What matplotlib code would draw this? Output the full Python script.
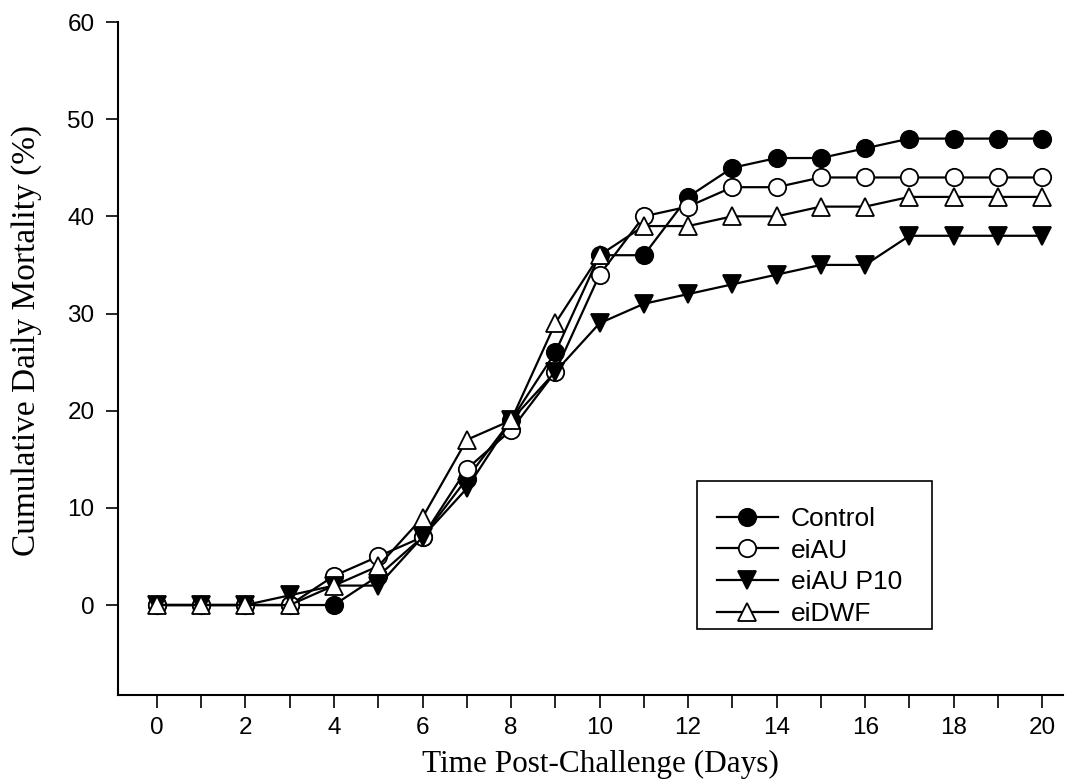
import matplotlib
matplotlib.use("Agg")
from matplotlib import pyplot as plt
from matplotlib.patches import Rectangle

days = list(range(0, 21))

control = [0, 0, 0, 0, 0, 3, 7, 13, 19, 26, 36, 36, 42, 45, 46, 46, 47, 48, 48, 48, 48]
eiAU = [0, 0, 0, 0, 3, 5, 7, 14, 18, 24, 34, 40, 41, 43, 43, 44, 44, 44, 44, 44, 44]
eiAU_P10 = [0, 0, 0, 1, 2, 2, 7, 12, 19, 24, 29, 31, 32, 33, 34, 35, 35, 38, 38, 38, 38]
eiDWF = [0, 0, 0, 0, 2, 4, 9, 17, 19, 29, 36, 39, 39, 40, 40, 41, 41, 42, 42, 42, 42]

series_names = ["Control", "eiAU", "eiAU P10", "eiDWF"]
x_ticks = list(range(0, 21, 2))
y_ticks = list(range(0, 61, 10))

W, H = 1073, 782
fig = plt.figure(figsize=(W / 100, H / 100), dpi=100)
ax = fig.add_axes([118 / W, 1 - 695 / H, (1063 - 118) / W, (695 - 22) / H])

styles = [
    dict(marker="o", mfc="black"),
    dict(marker="o", mfc="white"),
    dict(marker="v", mfc="black"),
    dict(marker="^", mfc="white"),
]
for vals, name, st in zip([control, eiAU, eiAU_P10, eiDWF], series_names, styles):
    ax.plot(days, vals, color="black", lw=1.6, ms=12.5, mec="black", mew=1.3,
            label=name, clip_on=False, **st)

ax.set_xlim(-0.88, 20.47)
ax.set_ylim(-9.26, 60)
ax.set_xticks(range(0, 21))
ax.set_xticklabels([str(d) if d in x_ticks else "" for d in range(0, 21)])
ax.set_yticks(y_ticks)

for s in ["top", "right"]:
    ax.spines[s].set_visible(False)
for s in ["left", "bottom"]:
    ax.spines[s].set_linewidth(1.5)

ax.tick_params(axis="both", direction="out", length=9, width=1.2, labelsize=17.5)
ax.tick_params(axis="x", pad=7)
ax.tick_params(axis="y", pad=8)
for lab in ax.get_xticklabels() + ax.get_yticklabels():
    lab.set_fontfamily("Liberation Sans")

ax.set_xlabel("Time Post-Challenge (Days)", fontsize=22.5, family="Liberation Serif", labelpad=3)
ax.xaxis.set_label_coords(0.511, -0.082)
ax.set_ylabel("Cumulative Daily Mortality (%)", fontsize=24, family="Liberation Serif")
ax.yaxis.set_label_coords(-0.080, 0.527)

# legend entries without frame, box drawn separately (reference box is tight at the bottom)
leg = ax.legend(loc="upper left", bbox_to_anchor=(717 / W, 1 - 507 / H),
                bbox_transform=fig.transFigure, frameon=False, borderpad=0,
                handlelength=2.3, handletextpad=0.5, labelspacing=0.29, borderaxespad=0,
                prop={"family": "Liberation Sans", "size": 19})
fig.patches.append(Rectangle((697 / W, 1 - 629 / H), (932 - 697) / W, (629 - 481) / H,
                             transform=fig.transFigure, fill=False, edgecolor="black",
                             linewidth=1.2, zorder=5))

fig.savefig("out.png", dpi=100)
